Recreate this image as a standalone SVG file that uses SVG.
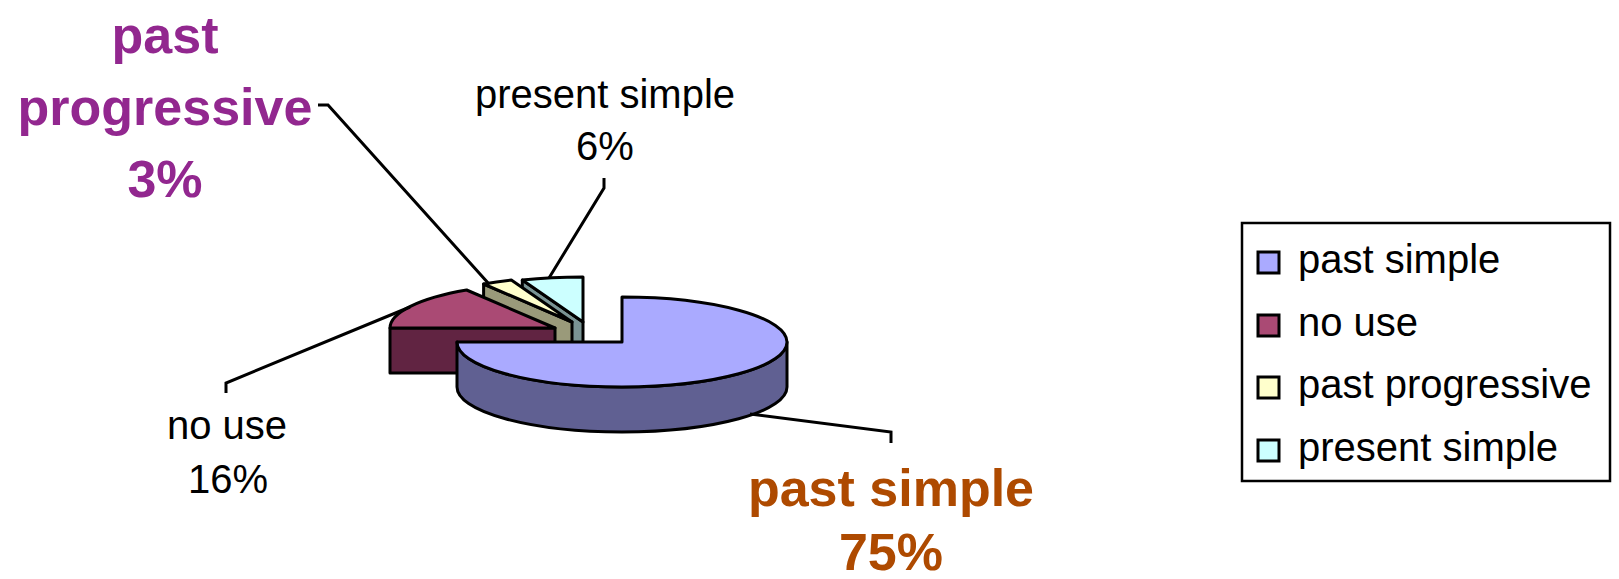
<svg xmlns="http://www.w3.org/2000/svg" width="1619" height="579" viewBox="0 0 1619 579">
<style>
.o{stroke:#000;stroke-width:3;stroke-linejoin:round}
.lead{fill:none;stroke:#000;stroke-width:3}
.lbl{font-family:"Liberation Sans",Arial,sans-serif;font-size:40px;fill:#000;text-anchor:middle}
.big{font-family:"Liberation Sans",Arial,sans-serif;font-size:52px;font-weight:bold;text-anchor:middle}
.leg{font-family:"Liberation Sans",Arial,sans-serif;font-size:40px;fill:#000}
.sw{stroke:#000;stroke-width:3}
</style>
<rect width="1619" height="579" fill="#fff"/>
<g id="slice-present-simple">
<path class="o" fill="#7A9494" d="M522.3,280.1 L583,322 L583,367 L522.3,325.1 Z"/>
<path class="o" fill="#CCFFFF" d="M583,322 L522.3,280.1 A165,45 0 0,1 583,277 Z"/>
</g>
<g id="slice-past-progressive">
<path class="o" fill="#9A9A7A" d="M483.6,284 L572,322 L572,367 L483.6,329 Z"/>
<path class="o" fill="#FFFFCC" d="M572,322 L483.6,284 A165,45 0 0,1 511.3,280.1 Z"/>
</g>
<g id="slice-no-use">
<path class="o" fill="#612442" d="M390,328 L555,328 L555,373 L390,373 Z"/>
<path class="o" fill="#AA4A74" d="M555,328 L390,328 A165,45 0 0,1 466.6,290 Z"/>
</g>
<g id="slice-past-simple">
<path class="o" fill="#606092" d="M457,342 A165,45 0 0,0 787,342 L787,387 A165,45 0 0,1 457,387 Z"/>
<path class="o" fill="#AAAAFF" d="M622,342 L622,297 A165,45 0 1,1 457,342 Z"/>
</g>
<g id="connectors">
<path class="lead" d="M226,393 L226,383 L410,307"/>
<path class="lead" d="M318,105 L328,105 L489,284"/>
<path class="lead" d="M604,178 L604,188 L549,278"/>
<path class="lead" d="M750,414 L891,432 L891,443"/>
</g>
<g id="label-past-progressive">
<text class="big" fill="#92278F" x="165" y="53">past</text>
<text class="big" fill="#92278F" x="165" y="125">progressive</text>
<text class="big" fill="#92278F" x="165" y="197">3%</text>
</g>
<g id="label-present-simple">
<text class="lbl" x="605" y="108">present simple</text>
<text class="lbl" x="605" y="160">6%</text>
</g>
<g id="label-no-use">
<text class="lbl" x="227" y="439">no use</text>
<text class="lbl" x="228" y="493">16%</text>
</g>
<g id="label-past-simple">
<text class="big" fill="#AE4A00" x="891" y="506">past simple</text>
<text class="big" fill="#AE4A00" x="891" y="570">75%</text>
</g>
<g id="legend">
<rect x="1242" y="223" width="368" height="258" fill="#fff" stroke="#000" stroke-width="2.5"/>
<rect class="sw" x="1258" y="252" width="21" height="21" fill="#AAAAFF"/>
<text class="leg" x="1298" y="273">past simple</text>
<rect class="sw" x="1258" y="315" width="21" height="21" fill="#AA4A74"/>
<text class="leg" x="1298" y="336">no use</text>
<rect class="sw" x="1258" y="377" width="21" height="21" fill="#FFFFCC"/>
<text class="leg" x="1298" y="398">past progressive</text>
<rect class="sw" x="1258" y="440" width="21" height="21" fill="#CCFFFF"/>
<text class="leg" x="1298" y="461">present simple</text>
</g>
</svg>
